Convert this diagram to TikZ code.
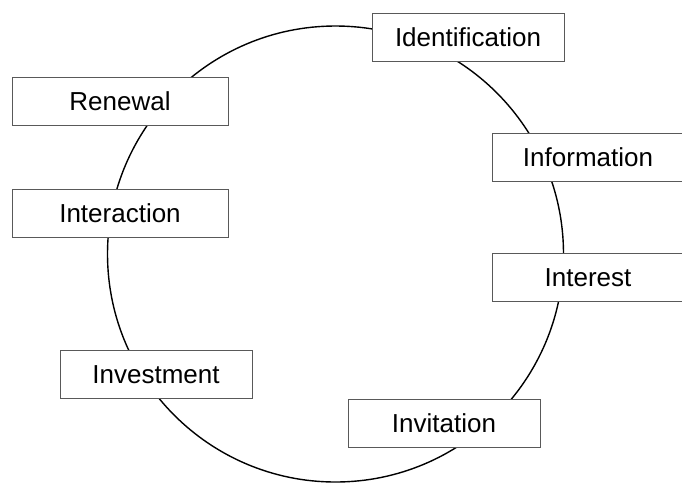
\documentclass[tikz,border=0pt]{standalone}
\usepackage{fontspec}
\setmainfont{Liberation Sans}
\begin{document}
\begin{tikzpicture}[x=1pt,y=-1pt,
  stagebox/.style={draw=black!65, line width=0.9pt, fill=white, rectangle,
    minimum width=192pt, minimum height=48pt, inner sep=0pt,
    text height=18.6pt, text depth=0pt, font=\fontsize{26pt}{30pt}\selectfont},
  widebox/.style={stagebox, minimum width=216pt}]
\useasboundingbox (0,0) rectangle (682,483);
\begin{scope}
\clip (0,0) rectangle (682,483);
\node[circle, draw=black, line width=1.4pt, minimum size=456pt, inner sep=0pt] (ring) at (335.5,254) {};
\node[stagebox] (ident) at (468,37) {Identification};
\node[widebox] (renew) at (120,101) {Renewal};
\node[stagebox] (info) at (588,157) {Information};
\node[widebox] (inter) at (120,213) {Interaction};
\node[stagebox] (intst) at (588,277) {Interest};
\node[stagebox] (invest) at (156,374) {Investment};
\node[stagebox] (invit) at (444,423) {Invitation};
\end{scope}
\end{tikzpicture}
\end{document}
